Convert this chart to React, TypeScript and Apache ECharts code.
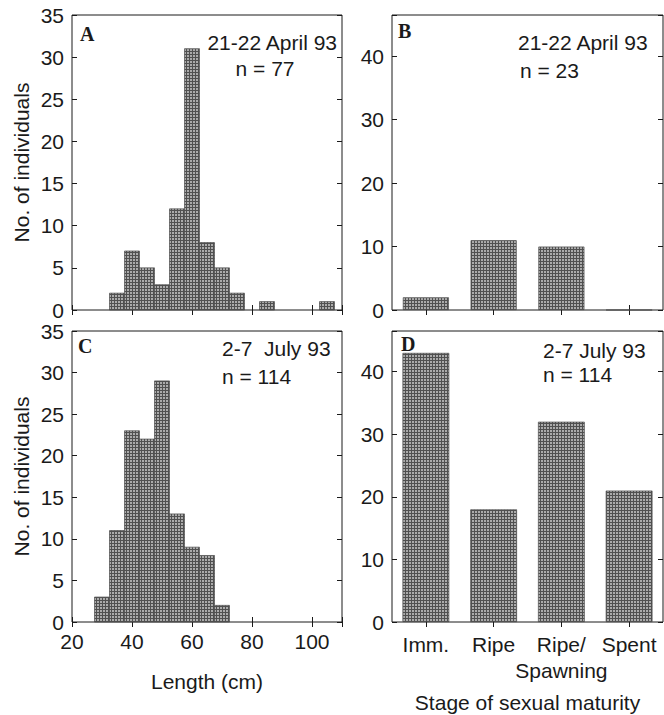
import React, { useEffect, useRef } from "react";
import * as echarts from "echarts";

// ---- data ----
const lengthBinsA = [35, 40, 45, 50, 55, 60, 65, 70, 75, 80, 85, 90, 95, 100, 105];
const countsA = [2, 7, 5, 3, 12, 31, 8, 5, 2, 0, 1, 0, 0, 0, 1];
const lengthBinsC = [30, 35, 40, 45, 50, 55, 60, 65, 70];
const countsC = [3, 11, 23, 22, 29, 13, 9, 8, 2];
const stages = ["Imm.", "Ripe", "Ripe/\nSpawning", "Spent"];
const stageCountsB = [2, 11, 10, 0];
const stageCountsD = [43, 18, 32, 21];
const lengthTickLabels = [20, 40, 60, 80, 100];
const lengthCountTicks = [0, 5, 10, 15, 20, 25, 30, 35];
const stageCountTicks = [0, 10, 20, 30, 40];

const FONT = '"Liberation Sans", Arial, sans-serif';
const SERIF = '"Liberation Serif", "Times New Roman", serif';
const FS = 21;
const INK = "#1a1a1a";

function makePattern(): any {
  const c = document.createElement("canvas");
  c.width = 3;
  c.height = 3;
  const ctx = c.getContext("2d")!;
  ctx.fillStyle = "#505050";
  ctx.fillRect(0, 0, 3, 3);
  ctx.fillStyle = "#ababab";
  ctx.fillRect(1, 1, 2, 2);
  return { image: c.toDataURL(), repeat: "repeat", imageWidth: 3, imageHeight: 3 };
}

export default function App() {
  const ref = useRef<HTMLDivElement>(null);
  useEffect(() => {
    if (!ref.current) return;
    const chart = echarts.init(ref.current, undefined, { renderer: "svg" });
    const pattern = makePattern();
    const binWidthA = lengthBinsA[1] - lengthBinsA[0];
    const binWidthC = lengthBinsC[1] - lengthBinsC[0];

    const grids = [
      { left: 72, top: 15, width: 270, height: 295 },
      { left: 392, top: 15, width: 271, height: 295 },
      { left: 72, top: 331, width: 270, height: 291 },
      { left: 392, top: 331, width: 271, height: 291 },
    ].map((g) => ({ ...g, show: true, borderColor: INK, borderWidth: 1, backgroundColor: "transparent", containLabel: false }));

    const tick = { show: true, inside: true, length: 5, lineStyle: { color: INK, width: 1 } };
    const noLine = { show: false };
    const lenMin = lengthTickLabels[0];
    const lenInterval = lengthTickLabels[1] - lengthTickLabels[0];
    const lenMax = 110;
    const cntMax = lengthCountTicks[lengthCountTicks.length - 1];
    const cntInterval = lengthCountTicks[1] - lengthCountTicks[0];
    const stMax = 46.5;
    const stInterval = stageCountTicks[1] - stageCountTicks[0];

    const labelStyle = { fontFamily: FONT, fontSize: FS, color: INK };

    const lenAxis = (gridIndex: number, position: string, labels: boolean, name?: string) => ({
      type: "value",
      gridIndex,
      position,
      min: lenMin,
      max: lenMax,
      interval: lenInterval,
      axisLine: noLine,
      axisTick: tick,
      splitLine: { show: false },
      axisLabel: {
        show: labels,
        ...labelStyle,
        margin: 9,
        formatter: (v: number) => (lengthTickLabels.includes(v) ? String(v) : ""),
      },
      name,
      nameLocation: "middle",
      nameGap: 49,
      nameTextStyle: labelStyle,
    });
    const stageAxis = (gridIndex: number, position: string, labels: boolean, name?: string) => ({
      type: "category",
      gridIndex,
      position,
      data: stages,
      axisLine: noLine,
      axisTick: { ...tick, alignWithLabel: true, interval: 0 },
      splitLine: { show: false },
      axisLabel: { show: labels, ...labelStyle, margin: 9, lineHeight: 26, interval: 0 },
      name,
      nameLocation: "middle",
      nameGap: 70,
      nameTextStyle: labelStyle,
    });
    const cntAxis = (gridIndex: number, position: string, labels: boolean, name?: string) => ({
      type: "value",
      gridIndex,
      position,
      min: 0,
      max: cntMax,
      interval: cntInterval,
      axisLine: noLine,
      axisTick: tick,
      splitLine: { show: false },
      axisLabel: {
        show: labels,
        ...labelStyle,
        margin: 8,
        formatter: (v: number) => (lengthCountTicks.includes(v) ? String(v) : ""),
      },
      name,
      nameLocation: "middle",
      nameGap: 40,
      nameTextStyle: labelStyle,
    });
    const stCntAxis = (gridIndex: number, position: string, labels: boolean) => ({
      type: "value",
      gridIndex,
      position,
      min: 0,
      max: stMax,
      interval: stInterval,
      axisLine: noLine,
      axisTick: tick,
      splitLine: { show: false },
      axisLabel: {
        show: labels,
        ...labelStyle,
        margin: 8,
        formatter: (v: number) => (stageCountTicks.includes(v) ? String(v) : ""),
      },
    });

    const histRender = (bw: number) => (params: any, api: any) => {
      const c = api.value(0);
      const n = api.value(1);
      if (!n) return null;
      const p0 = api.coord([c - bw / 2, n]);
      const p1 = api.coord([c + bw / 2, 0]);
      return {
        type: "rect",
        shape: { x: p0[0], y: p0[1], width: p1[0] - p0[0], height: p1[1] - p0[1] },
        style: { fill: pattern, stroke: "#4a4a4a", lineWidth: 0.7 },
      };
    };

    const txt = (text: string, x: number, y: number, align = "left", bold = false) => ({
      type: "text",
      x,
      y,
      silent: true,
      style: {
        text,
        x: 0,
        y: 0,
        align,
        verticalAlign: "middle",
        font: bold ? `bold ${FS - 1}px ${SERIF}` : `${FS}px ${FONT}`,
        fill: INK,
      },
    });

    chart.setOption({
      animation: false,
      backgroundColor: "#ffffff",
      grid: grids,
      xAxis: [
        lenAxis(0, "bottom", false),
        lenAxis(0, "top", false),
        stageAxis(1, "bottom", false),
        stageAxis(1, "top", false),
        lenAxis(2, "bottom", true, "Length (cm)"),
        lenAxis(2, "top", false),
        stageAxis(3, "bottom", true, "Stage of sexual maturity"),
        stageAxis(3, "top", false),
      ],
      yAxis: [
        cntAxis(0, "left", true, "No. of individuals"),
        cntAxis(0, "right", false),
        stCntAxis(1, "left", true),
        stCntAxis(1, "right", false),
        cntAxis(2, "left", true, "No. of individuals"),
        cntAxis(2, "right", false),
        stCntAxis(3, "left", true),
        stCntAxis(3, "right", false),
      ],
      series: [
        {
          type: "custom",
          name: "A",
          xAxisIndex: 0,
          yAxisIndex: 0,
          renderItem: histRender(binWidthA),
          encode: { x: 0, y: 1 },
          data: lengthBinsA.map((b, i) => [b, countsA[i]]),
        },
        {
          type: "bar",
          name: "B",
          xAxisIndex: 2,
          yAxisIndex: 2,
          barWidth: "68%",
          itemStyle: { color: pattern, borderColor: "#4a4a4a", borderWidth: 0.7 },
          data: stageCountsB,
        },
        {
          type: "custom",
          name: "C",
          xAxisIndex: 4,
          yAxisIndex: 4,
          renderItem: histRender(binWidthC),
          encode: { x: 0, y: 1 },
          data: lengthBinsC.map((b, i) => [b, countsC[i]]),
        },
        {
          type: "bar",
          name: "D",
          xAxisIndex: 6,
          yAxisIndex: 6,
          barWidth: "69%",
          itemStyle: { color: pattern, borderColor: "#4a4a4a", borderWidth: 0.7 },
          data: stageCountsD,
        },
      ],
      graphic: [
        txt("A", 80, 34, "left", true),
        txt("B", 398, 31, "left", true),
        txt("C", 78, 346, "left", true),
        txt("D", 401, 344, "left", true),
        txt("21-22 April 93", 337, 42, "right"),
        txt("n = 77", 265, 68, "center"),
        txt("21-22 April 93", 518, 42, "left"),
        txt("n = 23", 520, 70, "left"),
        txt("2-7  July 93", 222, 348, "left"),
        txt("n = 114", 222, 376, "left"),
        txt("2-7 July 93", 543, 350, "left"),
        txt("n = 114", 543, 374, "left"),
      ],
    });
    return () => chart.dispose();
  }, []);
  return (
    <div
      ref={ref}
      style={{ position: "absolute", left: 0, top: 0, width: 664, height: 715, background: "#fff" }}
    />
  );
}
